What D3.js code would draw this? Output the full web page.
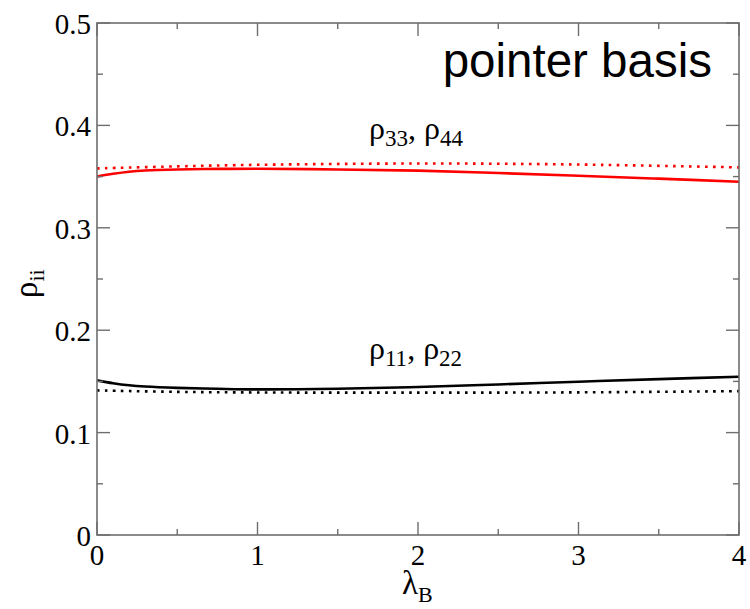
<!DOCTYPE html>
<html><head><meta charset="utf-8">
<script src="https://cdn.jsdelivr.net/npm/d3@7"></script>
<style>body{margin:0;background:#fff}</style>
</head><body>
<script>
const xSolidRed = [0,0.1,0.2,0.3,0.5,0.75,1,1.5,2,2.5,3,3.5,4];
const redSolid  = [0.350,0.3527,0.3548,0.356,0.357,0.3575,0.3576,0.357,0.3558,0.3535,0.3508,0.348,0.345];
const blackSolid= [0.151,0.1482,0.1462,0.1450,0.1437,0.1428,0.1422,0.1428,0.1445,0.147,0.1497,0.1522,0.1546];
const xDotted   = [0,0.5,1,2,3,4];
const redDotted = [0.358,0.360,0.3615,0.3628,0.3618,0.359];
const blackDotted=[0.1412,0.1398,0.1392,0.139,0.1393,0.1405];
const xTicks = [0,1,2,3,4];
const yTicks = [0,0.1,0.2,0.3,0.4,0.5];
const yTickLabels = ["0","0.1","0.2","0.3","0.4","0.5"];

const W=750,H=609;
const m={l:97,r:739,t:23,b:535};
const svg=d3.select("body").append("svg").attr("width",W).attr("height",H);
const x=d3.scaleLinear().domain([0,4]).range([m.l,m.r]);
const y=d3.scaleLinear().domain([0,0.5]).range([m.b,m.t]);
const axisCol="#6e6e6e";
const serif="'Liberation Serif','Times New Roman',serif";

const line=d3.line().x(d=>x(d[0])).y(d=>y(d[1])).curve(d3.curveCatmullRom.alpha(0.5));
function draw(xs,ys,col,dotted){
  const p=svg.append("path").datum(xs.map((v,i)=>[v,ys[i]])).attr("d",line)
    .attr("fill","none").attr("stroke",col).attr("stroke-width",2.6);
  if(dotted)p.attr("stroke-dasharray","2.6,5.4");
}
draw(xDotted,redDotted,"#ff0000",true);
draw(xSolidRed,redSolid,"#ff0000",false);
draw(xDotted,blackDotted,"#000",true);
draw(xSolidRed,blackSolid,"#000",false);

const g=svg.append("g");
g.append("rect").attr("x",m.l).attr("y",m.t).attr("width",m.r-m.l).attr("height",m.b-m.t)
 .attr("fill","none").attr("stroke",axisCol).attr("stroke-width",1.6);
const xMinor=d3.range(0,4.01,0.5), yMinor=d3.range(0,0.501,0.05);
xMinor.forEach(v=>{
  const major=Math.abs(v-Math.round(v))<1e-6, L=major?13:6;
  g.append("line").attr("x1",x(v)).attr("x2",x(v)).attr("y1",m.b).attr("y2",m.b-L).attr("stroke",axisCol).attr("stroke-width",1.4);
  g.append("line").attr("x1",x(v)).attr("x2",x(v)).attr("y1",m.t).attr("y2",m.t+L).attr("stroke",axisCol).attr("stroke-width",1.4);
});
yMinor.forEach(v=>{
  const major=Math.abs(v*10-Math.round(v*10))<1e-6, L=major?13:6;
  g.append("line").attr("y1",y(v)).attr("y2",y(v)).attr("x1",m.l).attr("x2",m.l+L).attr("stroke",axisCol).attr("stroke-width",1.4);
  g.append("line").attr("y1",y(v)).attr("y2",y(v)).attr("x1",m.r).attr("x2",m.r-L).attr("stroke",axisCol).attr("stroke-width",1.4);
});
xTicks.forEach(v=>{
  svg.append("text").attr("x",x(v)).attr("y",m.b+30).attr("text-anchor","middle")
    .attr("font-family",serif).attr("font-size",29).text(String(v));
});
yTicks.forEach((v,i)=>{
  svg.append("text").attr("x",m.l-6).attr("y",y(v)+11).attr("text-anchor","end")
    .attr("font-family",serif).attr("font-size",29).text(yTickLabels[i]);
});

const yl=svg.append("text").attr("transform","translate(37,298) rotate(-90)")
  .attr("font-family",serif).attr("font-size",33);
yl.append("tspan").text("ρ");
yl.append("tspan").attr("font-size",22).attr("dy",7).text("ii");
const xl=svg.append("text").attr("x",402).attr("y",594).attr("font-family",serif).attr("font-size",33);
xl.append("tspan").text("λ");
xl.append("tspan").attr("font-size",22).attr("dy",8).text("B");

function rhoLabel(x0,yb,a,b){
  const t=svg.append("text").attr("x",x0).attr("y",yb).attr("font-family",serif).attr("font-size",32);
  t.append("tspan").text("ρ");
  t.append("tspan").attr("font-size",23).attr("dy",7).text(a);
  t.append("tspan").attr("dy",-7).text(", ρ");
  t.append("tspan").attr("font-size",23).attr("dy",7).text(b);
}
rhoLabel(369,139,"33","44");
rhoLabel(369,359,"11","22");

svg.append("text").attr("x",712).attr("y",77).attr("text-anchor","end")
  .attr("font-family","'Liberation Sans',Arial,sans-serif").attr("font-size",47.5).text("pointer basis");
</script>
</body></html>
